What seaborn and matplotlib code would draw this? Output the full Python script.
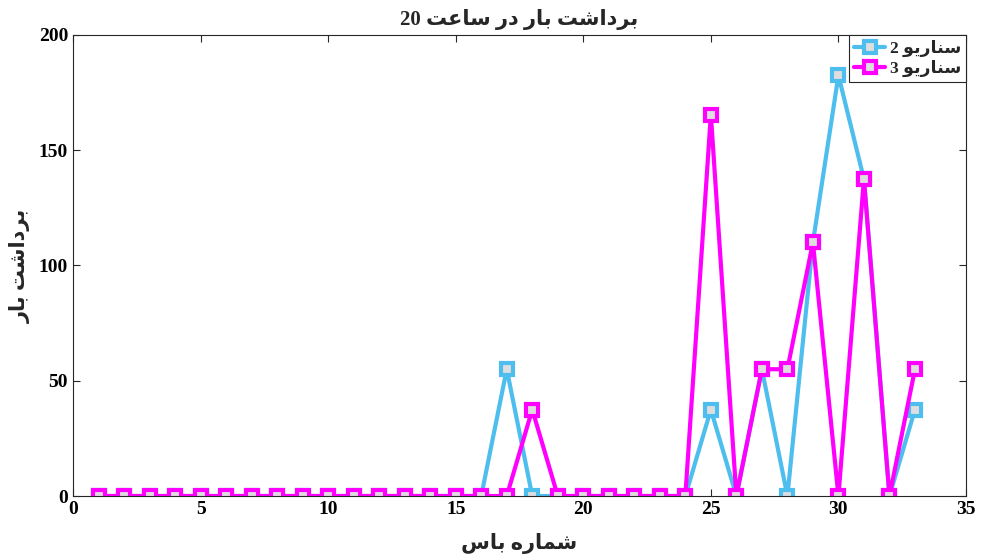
import re
import pandas as pd
import seaborn as sns
import matplotlib.pyplot as plt

# داده‌ها
bus = list(range(1, 34))
scenario2 = [0, 0, 0, 0, 0, 0, 0, 0, 0, 0, 0, 0, 0, 0, 0, 0, 55, 0, 0, 0,
             0, 0, 0, 0, 37.5, 0, 55, 0, 110, 182.5, 137.5, 0, 37.5]
scenario3 = [0, 0, 0, 0, 0, 0, 0, 0, 0, 0, 0, 0, 0, 0, 0, 0, 0, 37.5, 0, 0,
             0, 0, 0, 0, 165.5, 0, 55, 55, 110, 0, 137.5, 0, 55]
label2 = "سناریو 2"
label3 = "سناریو 3"
title_txt = "برداشت بار در ساعت 20"
xlabel_txt = "شماره باس"
ylabel_txt = "برداشت بار"

# شکل‌دهی ساده حروف فارسی (matplotlib خودش اتصال و راست‌به‌چپ ندارد)
FORMS = {  # isolated, final, initial, medial
    'ب': ('\uFE8F', '\uFE90', '\uFE91', '\uFE92'),
    'ت': ('\uFE95', '\uFE96', '\uFE97', '\uFE98'),
    'ش': ('\uFEB5', '\uFEB6', '\uFEB7', '\uFEB8'),
    'س': ('\uFEB1', '\uFEB2', '\uFEB3', '\uFEB4'),
    'ع': ('\uFEC9', '\uFECA', '\uFECB', '\uFECC'),
    'م': ('\uFEE1', '\uFEE2', '\uFEE3', '\uFEE4'),
    'ه': ('\uFEE9', '\uFEEA', '\uFEEB', '\uFEEC'),
    'ن': ('\uFEE5', '\uFEE6', '\uFEE7', '\uFEE8'),
    'ی': ('\uFBFC', '\uFBFD', '\uFBFE', '\uFBFF'),
    'ا': ('\uFE8D', '\uFE8E', None, None),
    'د': ('\uFEA9', '\uFEAA', None, None),
    'ر': ('\uFEAD', '\uFEAE', None, None),
    'و': ('\uFEED', '\uFEEE', None, None),
}


def fa(text):
    out = []
    for i, ch in enumerate(text):
        if ch not in FORMS:
            out.append(ch)
            continue
        prev = text[i - 1] if i > 0 else ''
        nxt = text[i + 1] if i + 1 < len(text) else ''
        join_prev = prev in FORMS and FORMS[prev][2] is not None
        join_next = FORMS[ch][2] is not None and nxt in FORMS
        f = FORMS[ch]
        if join_prev and join_next:
            out.append(f[3])
        elif join_prev:
            out.append(f[1])
        elif join_next:
            out.append(f[2])
        else:
            out.append(f[0])
    vis = ''.join(reversed(out))
    return re.sub(r'\d+', lambda m: m.group(0)[::-1], vis)


sns.set_style("ticks")
plt.rcParams['font.family'] = ['Liberation Serif', 'DejaVu Sans']
plt.rcParams['font.weight'] = 'bold'
plt.rcParams['xtick.direction'] = 'in'
plt.rcParams['ytick.direction'] = 'in'

df = pd.DataFrame({"bus": bus, "s2": scenario2, "s3": scenario3})

fig = plt.figure(figsize=(9.84, 5.59), dpi=100)
ax = fig.add_axes([0.0742, 0.1127, 0.9075, 0.8247])

style = dict(lw=3, marker="s", markersize=9, markerfacecolor="#DEDEDE",
             markeredgewidth=3)
sns.lineplot(data=df, x="bus", y="s2", ax=ax, color="#4DBEEE",
             markeredgecolor="#4DBEEE", label=fa(label2), **style)
sns.lineplot(data=df, x="bus", y="s3", ax=ax, color="#FF00FF",
             markeredgecolor="#FF00FF", label=fa(label3), **style)

ax.set_xlim(0, 35)
ax.set_ylim(0, 200)
ax.set_xticks(range(0, 36, 5))
ax.set_yticks(range(0, 201, 50))
ax.tick_params(top=True, right=True, labelsize=14, length=5, width=0.8,
               colors="#262626", labelcolor="black")
for s in ax.spines.values():
    s.set_linewidth(0.8)
    s.set_color("#262626")

ax.set_title(fa(title_txt), fontsize=15, fontweight="bold", pad=7)
ax.set_xlabel(fa(xlabel_txt), fontsize=15, fontweight="bold", labelpad=11)
ax.set_ylabel(fa(ylabel_txt), fontsize=15, fontweight="bold", labelpad=6)

leg = ax.legend(loc="upper right", borderaxespad=0, fancybox=False,
                edgecolor="#262626", framealpha=1, fontsize=12.5,
                handlelength=1.8, handletextpad=0.25, borderpad=0.3,
                labelspacing=0.15)
leg.get_frame().set_linewidth(0.8)

fig.savefig("out.png", dpi=100)
